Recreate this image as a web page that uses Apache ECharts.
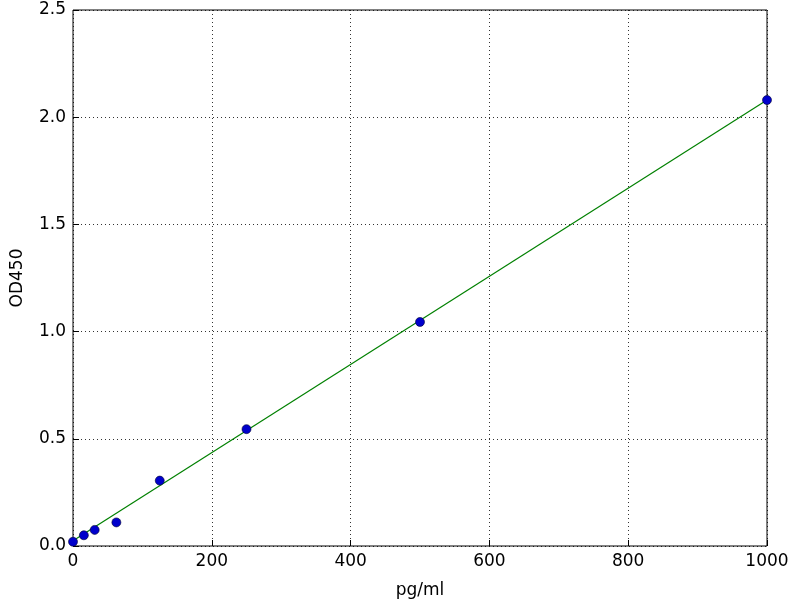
<!DOCTYPE html>
<html><head><meta charset="utf-8">
<script src="https://cdn.jsdelivr.net/npm/echarts@6/dist/echarts.min.js"></script>
<style>html,body{margin:0;padding:0;background:#fff}#c{width:800px;height:600px}</style>
</head><body><div id="c"></div>
<script>
var concentrations = [0, 15.625, 31.25, 62.5, 125, 250, 500, 1000];
var odValues = [0.02, 0.05, 0.075, 0.11, 0.305, 0.545, 1.045, 2.08];
var fitX = [0, 1000];
var fitY = [0.025, 2.08];
var xTicks = [0, 200, 400, 600, 800, 1000];
var yTicks = [0.0, 0.5, 1.0, 1.5, 2.0, 2.5];

var chart = echarts.init(document.getElementById('c'));
var font = 'DejaVu Sans';
chart.setOption({
  animation: false,
  grid: {left: 73, right: 33, top: 10, bottom: 54, show: true, borderColor: '#000', borderWidth: 1,
    containLabel: false, outerBoundsMode: 'none'},
  xAxis: {
    type: 'value', min: 0, max: 1000, interval: 200,
    name: 'pg/ml', nameLocation: 'middle', nameGap: 36,
    nameTextStyle: {fontFamily: font, fontSize: 17, color: '#000'},
    axisLine: {show: false},
    axisTick: {show: true, inside: true, length: 6, lineStyle: {color: '#000'}},
    axisLabel: {fontFamily: font, fontSize: 17, color: '#000', margin: 7,
      formatter: function (v) { return String(v); }},
    splitLine: {show: true, lineStyle: {color: '#000', type: [1, 3], width: 1, opacity: 0.8}}
  },
  yAxis: {
    type: 'value', min: 0, max: 2.5, interval: 0.5,
    name: 'OD450', nameLocation: 'middle', nameGap: 47, nameRotate: 90,
    nameTextStyle: {fontFamily: font, fontSize: 17, color: '#000'},
    axisLine: {show: false},
    axisTick: {show: true, inside: true, length: 6, lineStyle: {color: '#000'}},
    axisLabel: {fontFamily: font, fontSize: 17, color: '#000', margin: 7,
      formatter: function (v) { return v.toFixed(1); }},
    splitLine: {show: true, lineStyle: {color: '#000', type: [1, 3], width: 1, opacity: 0.8}}
  },
  series: [
    {
      type: 'line', data: fitX.map(function (x, i) { return [x, fitY[i]]; }),
      showSymbol: false, lineStyle: {color: '#008000', width: 1.2}, z: 2
    },
    {
      type: 'scatter', data: concentrations.map(function (x, i) { return [x, odValues[i]]; }),
      symbolSize: 9, itemStyle: {color: '#0000cc', borderColor: '#000033', borderWidth: 0.6, opacity: 1}, z: 3
    }
  ]
});
</script></body></html>
